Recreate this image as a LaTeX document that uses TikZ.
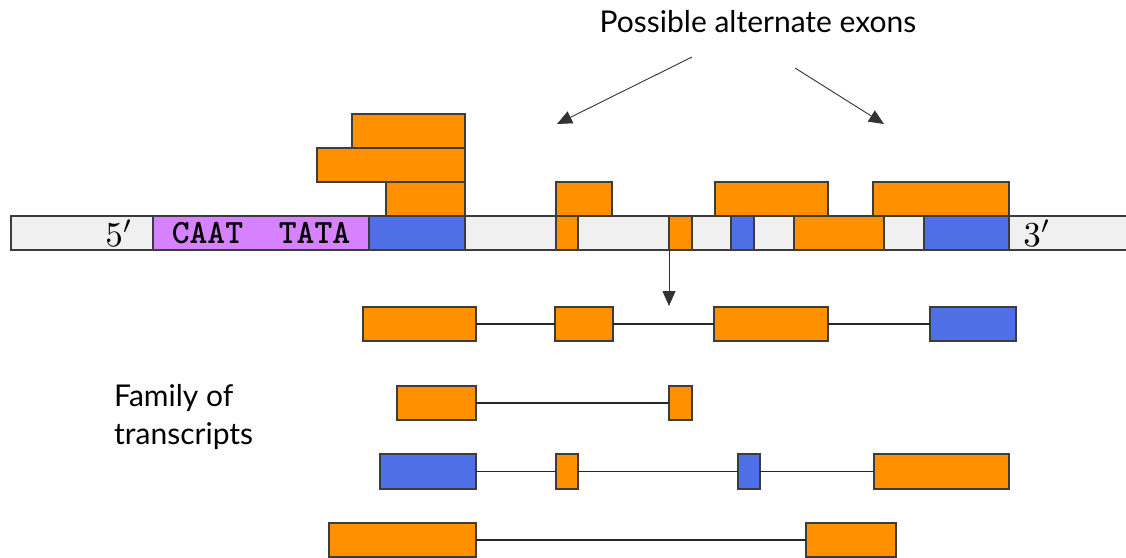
\documentclass[tikz,border=0pt]{standalone}
\usepackage{fontspec}
\usepackage{graphicx}
\usepackage{tikz}
\usetikzlibrary{arrows.meta, positioning, calc}
\newfontfamily\labelfont{Lato}

\definecolor{exonorange}{RGB}{255,145,0}
\definecolor{exonblue}{RGB}{78,111,230}
\definecolor{promoter}{RGB}{214,130,255}
\definecolor{dnagray}{RGB}{240,240,240}
\definecolor{edge}{RGB}{60,60,60}

% box from x1 to x2 and y1 to y2 (picture pixels)
\newcommand{\exonbox}[6]{%
  \node[#2, minimum width={#4pt-#3pt}, minimum height={#6pt-#5pt}]
    (#1) at ({(#3+#4)/2},{(#5+#6)/2}) {};}

\begin{document}
\begin{tikzpicture}[
    x=1pt, y=-1pt,
    seg/.style={rectangle, draw=edge, line width=1.3pt, inner sep=0pt, outer sep=0pt},
    orangex/.style={seg, fill=exonorange},
    bluex/.style={seg, fill=exonblue},
    intron/.style={line width=1.1pt, black!85},
    arrow/.style={-{Triangle[length=15pt, width=13pt]}, line width=0.9pt, black!80},
    caption/.style={font=\labelfont\fontsize{30}{38}\selectfont, inner sep=0pt},
    strandend/.style={inner sep=0pt}
]
\useasboundingbox (0,0) rectangle (1126,557);

% DNA strand
\exonbox{dna}{seg, fill=dnagray}{11}{1140}{216}{250}
\exonbox{prom}{seg, fill=promoter}{153}{369}{216}{250}
\node[font=\ttfamily\bfseries\fontsize{34}{34}\selectfont, inner sep=0pt] at (prom) {CAAT\ \ TATA};
\node[strandend] (five) at (119,233) {\scalebox{3.5}{$5'$}};
\node[strandend] (three) at (1037,233) {\scalebox{3.5}{$3'$}};

\exonbox{b1}{bluex}{369}{465}{216}{250}
\exonbox{b2}{orangex}{556}{578}{216}{250}
\exonbox{b3}{orangex}{669}{692}{216}{250}
\exonbox{b4}{bluex}{731}{754}{216}{250}
\exonbox{b5}{orangex}{794}{884}{216}{250}
\exonbox{b6}{bluex}{924}{1009}{216}{250}

% alternative exons above the strand
\exonbox{u1}{orangex}{386}{465}{182}{216}
\exonbox{u2}{orangex}{317}{465}{148}{182}
\exonbox{u3}{orangex}{352}{465}{114}{148}
\exonbox{u4}{orangex}{556}{612}{182}{216}
\exonbox{u5}{orangex}{715}{828}{182}{216}
\exonbox{u6}{orangex}{873}{1009}{182}{216}

% title and arrows
\node[caption] (title) at (758,22) {Possible alternate exons};
\coordinate (la) at (692,57);
\coordinate (lb) at (557,124);
\coordinate (ra) at (795,68);
\coordinate (rb) at (884,124);
\draw[arrow] (la) -- (lb);
\draw[arrow] (ra) -- (rb);

\coordinate (splice) at (669,306);
\draw[arrow] (b3.south west) -- (splice);

% transcripts
\exonbox{r1a}{orangex}{363}{476}{307}{341}
\exonbox{r1b}{orangex}{555}{613}{307}{341}
\exonbox{r1c}{orangex}{714}{828}{307}{341}
\exonbox{r1d}{bluex}{930}{1016}{307}{341}
\draw[intron] (r1a) -- (r1b);
\draw[intron] (r1b) -- (r1c);
\draw[intron] (r1c) -- (r1d);

\exonbox{r2a}{orangex}{397}{476}{386}{420}
\exonbox{r2b}{orangex}{669}{692}{386}{420}
\draw[intron] (r2a) -- (r2b);

\exonbox{r3a}{bluex}{380}{476}{454}{489}
\exonbox{r3b}{orangex}{556}{578}{454}{489}
\exonbox{r3c}{bluex}{738}{760}{454}{489}
\exonbox{r3d}{orangex}{874}{1009}{454}{489}
\draw[intron] (r3a) -- (r3b);
\draw[intron] (r3b) -- (r3c);
\draw[intron] (r3c) -- (r3d);

\exonbox{r4a}{orangex}{329}{476}{523}{557}
\exonbox{r4b}{orangex}{806}{896}{523}{557}
\draw[intron] (r4a) -- (r4b);

\node[caption, anchor=west, align=left] (family) at (114,417) {Family of\\transcripts};

\end{tikzpicture}
\end{document}
